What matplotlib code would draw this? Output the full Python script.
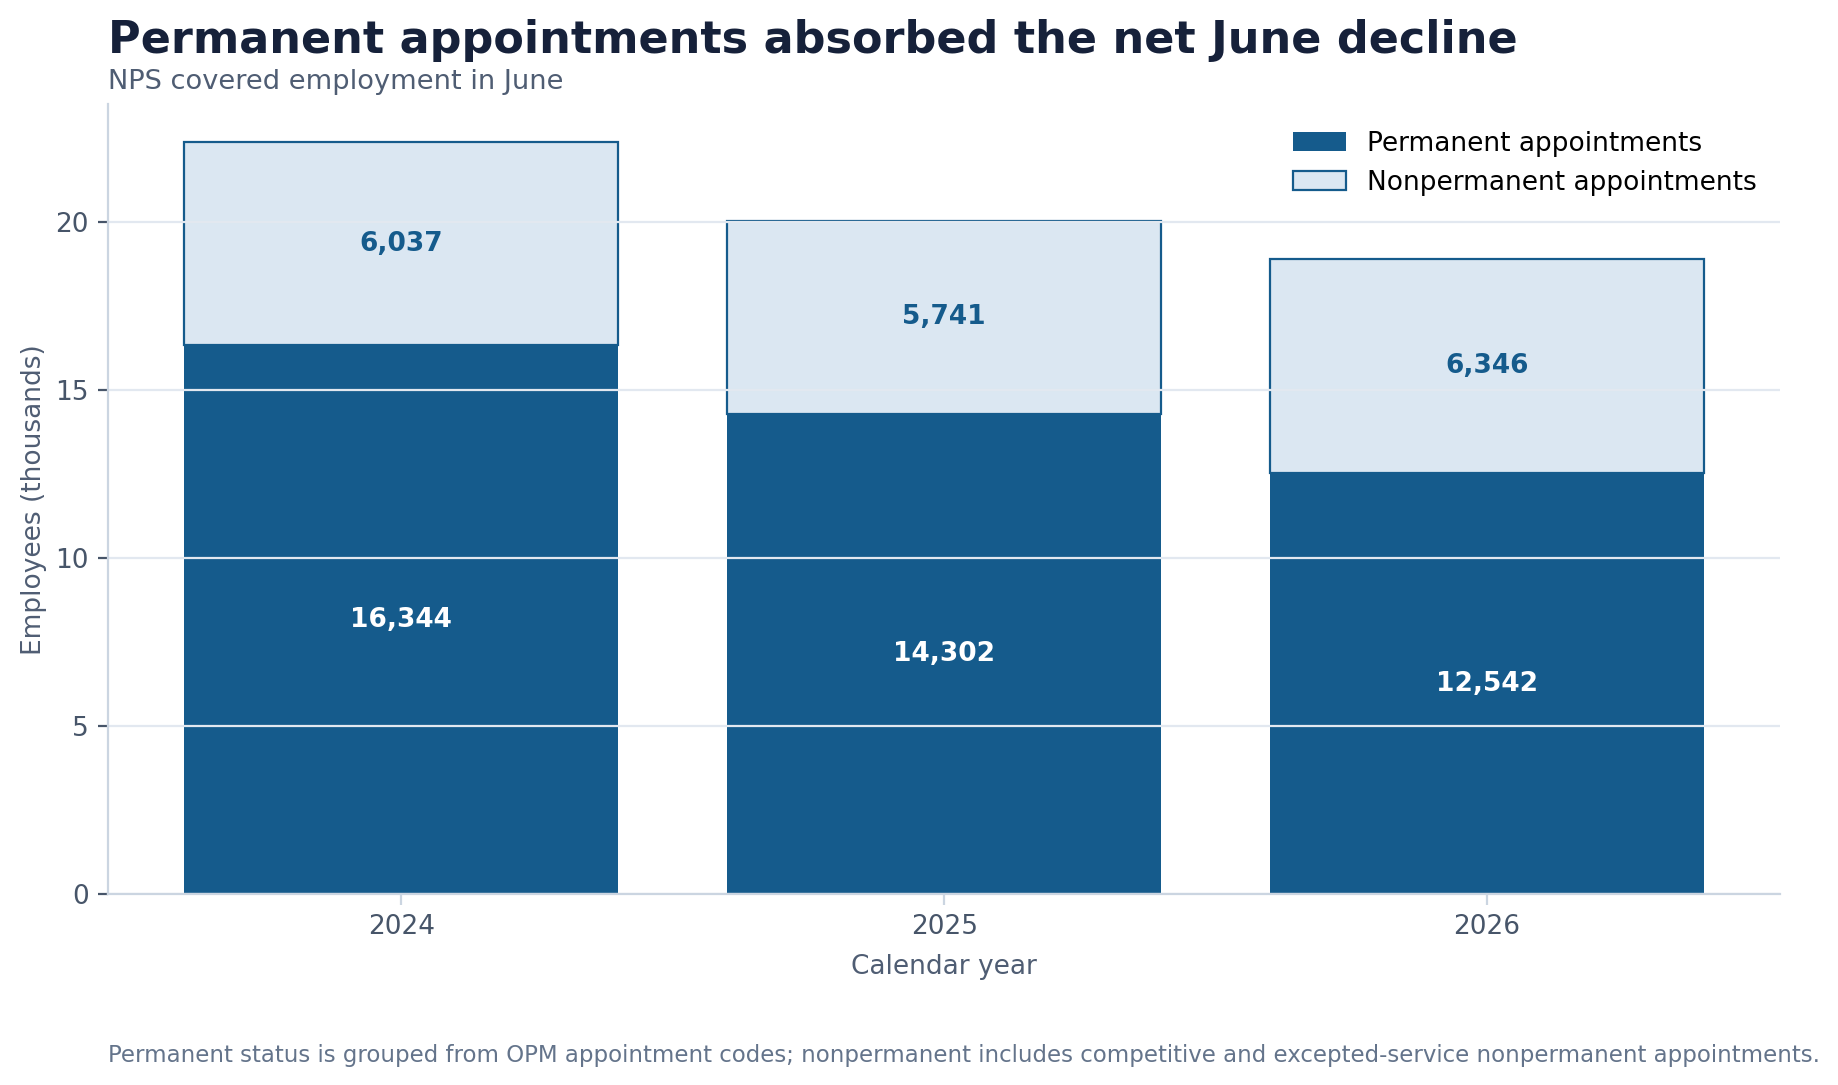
import matplotlib
matplotlib.use("Agg")
import matplotlib.pyplot as plt
import numpy as np

years = ["2024", "2025", "2026"]
permanent = [16344, 14302, 12542]
nonpermanent = [6037, 5741, 6346]

title = "Permanent appointments absorbed the net June decline"
subtitle = "NPS covered employment in June"
footnote = ("Permanent status is grouped from OPM appointment codes; nonpermanent includes "
            "competitive and excepted-service nonpermanent appointments.")

DARK = "#155b8c"
LIGHT = "#dbe7f2"
TITLE_C = "#16213a"
SUB_C = "#4f5d73"
TICK_C = "#475569"
FOOT_C = "#64748b"
SPINE_C = "#cbd5e1"
GRID_C = "#e2e8f0"

plt.rcParams['font.family'] = ['DejaVu Sans']

fig = plt.figure(figsize=(9.19, 5.425), dpi=200)
ax = fig.add_axes([0.0588, 0.1758, 0.9098, 0.7279])

x = np.arange(len(years))
perm_k = np.array(permanent) / 1000
non_k = np.array(nonpermanent) / 1000

ax.bar(x, perm_k, width=0.8, color=DARK, label="Permanent appointments", zorder=2)
ax.bar(x, non_k, width=0.8, bottom=perm_k, color=LIGHT, edgecolor=DARK,
       linewidth=0.8, label="Nonpermanent appointments", zorder=2)

ax.yaxis.grid(True, color=GRID_C, linewidth=0.8, zorder=3)
ax.xaxis.grid(False)
ax.set_axisbelow(False)

for i in range(len(years)):
    ax.text(x[i], perm_k[i] / 2, f"{permanent[i]:,}", ha="center", va="center",
            color="white", fontsize=9.5, fontweight="bold", zorder=5)
    ax.text(x[i], perm_k[i] + non_k[i] / 2, f"{nonpermanent[i]:,}", ha="center",
            va="center", color=DARK, fontsize=9.5, fontweight="bold", zorder=5)

ax.set_xticks(x)
ax.set_xticklabels(years)
ax.set_yticks([0, 5, 10, 15, 20])
ax.tick_params(axis="both", labelsize=9.5, labelcolor=TICK_C)
ax.tick_params(axis="x", colors=SPINE_C, labelcolor=TICK_C, length=4, pad=3)
ax.tick_params(axis="y", colors=TICK_C, labelcolor=TICK_C, length=3.5)

for s in ["top", "right"]:
    ax.spines[s].set_visible(False)
for s in ["left", "bottom"]:
    ax.spines[s].set_color(SPINE_C)
    ax.spines[s].set_linewidth(0.8)
    ax.spines[s].set_zorder(4)

ax.set_xlabel("Calendar year", fontsize=9.5, color=SUB_C, labelpad=5)
ax.set_ylabel("Employees (thousands)", fontsize=9.5, color=SUB_C, labelpad=3)

ax.legend(loc="upper right", frameon=False, fontsize=9.5, bbox_to_anchor=(1.0, 0.997))

fig.text(0.0588, 0.951, title, fontsize=16, fontweight="bold", color=TITLE_C,
         ha="left", va="baseline")
fig.text(0.0588, 0.918, subtitle, fontsize=9.8, color=SUB_C, ha="left", va="baseline")
fig.text(0.0588, 0.0215, footnote, fontsize=8.26, color=FOOT_C, ha="left", va="baseline")

fig.savefig("out.png", dpi=200)
